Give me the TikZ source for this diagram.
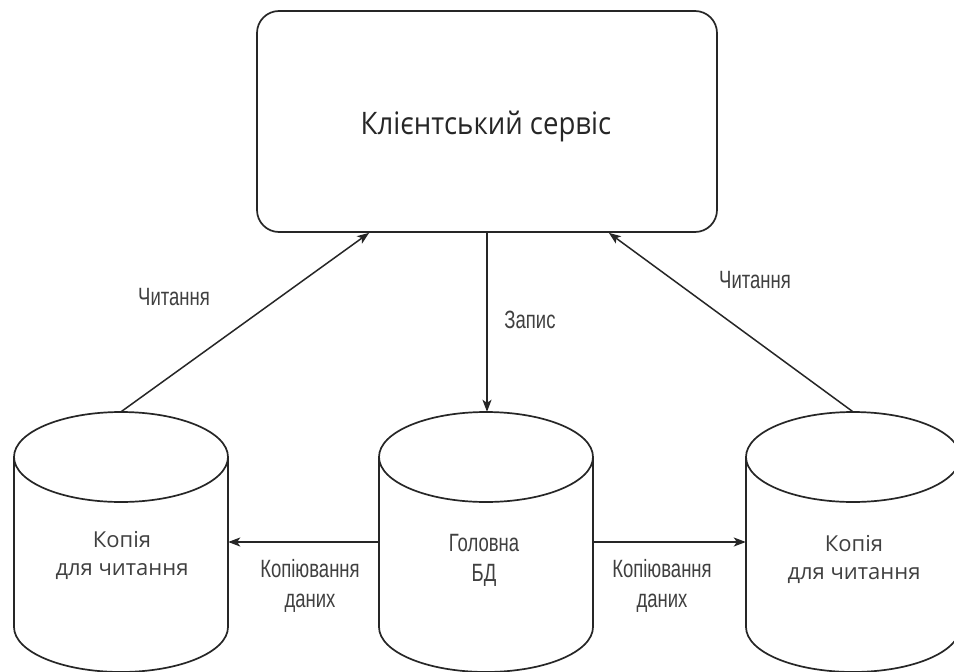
\documentclass[tikz,border=0pt]{standalone}
\usepackage{fontspec}
\setmainfont{Liberation Sans}
\newfontfamily\widefont{Open Sans}
\newfontfamily\titlefam[FakeStretch=0.89]{Open Sans}
\newfontfamily\narrowfont[FakeStretch=0.74]{Liberation Sans}
\usetikzlibrary{arrows.meta}
\begin{document}
\begin{tikzpicture}[x=1pt,y=-1pt,
  shapeline/.style={draw=black!85, line width=1.7pt},
  conn/.style={draw=black!85, line width=1.5pt, -{Stealth[length=12pt,width=9pt,inset=3pt]}},
  cylbox/.style={minimum width=214pt, minimum height=260pt, inner sep=0pt},
  titletext/.style={font=\titlefam\fontsize{31}{36}\selectfont, text=black!85},
  widetext/.style={font=\widefont\fontsize{22}{28}\selectfont, text=black!75, align=center},
  narrowtext/.style={font=\narrowfont\fontsize{25}{30}\selectfont, text=black!75, align=center}
]
\useasboundingbox (0,0) rectangle (954,672);
\clip (0,0) rectangle (954,672);
\fill[white] (0,0) rectangle (954,672);

% cylinders
\foreach \cx in {121,486,853}{
  \draw[shapeline, fill=white] ({\cx-107},457) -- ({\cx-107},627)
    arc[start angle=180, end angle=0, x radius=107, y radius=45] -- ({\cx+107},457);
  \draw[shapeline] (\cx,457) ellipse [x radius=107, y radius=45];
}
\node[cylbox] (L) at (121,542) {};
\node[cylbox] (M) at (486,542) {};
\node[cylbox] (R) at (853,542) {};

% client service box
\node[shapeline, rounded corners=22pt, minimum width=460pt, minimum height=221pt] (C) at (487,121.5) {};
\node[titletext] (Ct) at (486,127) {Клієнтський сервіс};

% texts inside cylinders
\node[widetext] (Lt) at (122,555) {Копія\\для читання};
\node[narrowtext] (Mt) at (484,560) {Головна\\БД};
\node[widetext] (Rt) at (854,559) {Копія\\для читання};

% connectors
\draw[conn] (C.south) -- (C.south |- M.north);
\draw[conn] (L.north) -- ([xshift=113pt]C.south west);
\draw[conn] (R.north) -- ([xshift=-109pt]C.south east);
\draw[conn] (M.west) -- (L.east);
\draw[conn] (M.east) -- (R.west);

% labels
\node[narrowtext] (lr) at (174,297) {Читання};
\node[narrowtext] (rr) at (755,280) {Читання};
\node[narrowtext] (wr) at (530,320) {Запис};
\node[narrowtext] (lc) at (310,586) {Копіювання\\даних};
\node[narrowtext] (rc) at (662,586) {Копіювання\\даних};
\end{tikzpicture}
\end{document}
